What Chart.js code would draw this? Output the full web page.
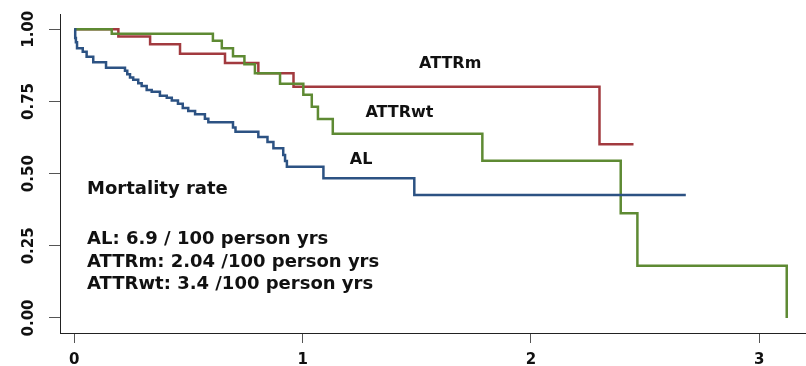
<!DOCTYPE html>
<html>
<head>
<meta charset="utf-8">
<script src="https://cdn.jsdelivr.net/npm/chart.js@4.4.1/dist/chart.umd.min.js"></script>
<style>
  html, body { margin: 0; padding: 0; background: #fff; }
  #wrap { width: 806px; height: 366px; }
</style>
</head>
<body>
<div id="wrap"><canvas id="km" width="806" height="366"></canvas></div>
<script>
// Kaplan-Meier survival estimates by amyloidosis type (time in years)
const alTime = [0, 0.004, 0.007, 0.012, 0.037, 0.054, 0.083, 0.139, 0.222, 0.232, 0.244, 0.258,
  0.280, 0.295, 0.317, 0.339, 0.375, 0.405, 0.427, 0.454, 0.475, 0.499, 0.529, 0.572,
  0.587, 0.695, 0.706, 0.806, 0.846, 0.872, 0.915, 0.923, 0.931, 1.091, 1.489, 2.678];
const alSurv = [1, 0.97, 0.955, 0.934, 0.922, 0.905, 0.886, 0.867, 0.856, 0.844, 0.833, 0.825,
  0.813, 0.804, 0.790, 0.784, 0.770, 0.763, 0.753, 0.742, 0.727, 0.717, 0.706, 0.690,
  0.678, 0.660, 0.645, 0.627, 0.610, 0.588, 0.565, 0.544, 0.524, 0.484, 0.426, 0.426];

const attrmTime = [0, 0.193, 0.332, 0.463, 0.660, 0.806, 0.960, 2.300, 2.449];
const attrmSurv = [1, 0.975, 0.948, 0.915, 0.883, 0.848, 0.801, 0.602, 0.602];

const attrwtTime = [0, 0.164, 0.607, 0.646, 0.695, 0.745, 0.791, 0.901, 1.003, 1.040,
  1.067, 1.132, 1.787, 2.393, 2.466, 3.120];
const attrwtSurv = [1, 0.985, 0.960, 0.934, 0.907, 0.879, 0.848, 0.811, 0.773, 0.732,
  0.689, 0.638, 0.545, 0.363, 0.181, 0];

const xTicks = [0, 1, 2, 3];
const yTicks = [0, 0.25, 0.5, 0.75, 1];
const yTickLabels = ['0.00', '0.25', '0.50', '0.75', '1.00'];

const groupNames = ['AL', 'ATTRwt', 'ATTRm'];
const rateLines = [
  'Mortality rate',
  'AL: 6.9 / 100 person yrs',
  'ATTRm: 2.04 /100 person yrs',
  'ATTRwt: 3.4 /100 person yrs'
];

const toPoints = (t, s) => t.map((v, i) => ({ x: v, y: s[i] }));

// where the group names and the rate block sit, in data units
const nameAnchors = [
  { x: 1.256, y: 0.548 },  // AL
  { x: 1.424, y: 0.710 },  // ATTRwt
  { x: 1.646, y: 0.882 }   // ATTRm
];
const rateX = 0.056;
const rateY = [0.447, 0.274, 0.194, 0.115];

const FONT = '"DejaVu Sans", Verdana, sans-serif';

const textPlugin = {
  id: 'kmText',
  afterDatasetsDraw(chart) {
    const { ctx, scales: { x, y } } = chart;
    ctx.save();
    ctx.fillStyle = '#111';

    // rotated y tick labels
    ctx.font = 'bold 15px ' + FONT;
    ctx.textAlign = 'center';
    ctx.textBaseline = 'middle';
    y.ticks.forEach(tk => {
      const py = y.getPixelForValue(tk.value);
      ctx.save();
      ctx.translate(y.right - 31, py);
      ctx.rotate(-Math.PI / 2);
      ctx.fillText(yTickLabels[yTicks.indexOf(tk.value)], 0, 0);
      ctx.restore();
    });

    // group names next to their curves
    ctx.font = 'bold 16px ' + FONT;
    groupNames.forEach((n, i) => {
      ctx.fillText(n, x.getPixelForValue(nameAnchors[i].x), y.getPixelForValue(nameAnchors[i].y));
    });

    // mortality rate block
    ctx.font = 'bold 18px ' + FONT;
    ctx.textAlign = 'left';
    rateLines.forEach((line, i) => {
      ctx.fillText(line, x.getPixelForValue(rateX), y.getPixelForValue(rateY[i]));
    });
    ctx.restore();
  }
};

const lineStyle = { pointRadius: 0, pointHoverRadius: 0, borderWidth: 2.5, fill: false, stepped: true, tension: 0 };

new Chart(document.getElementById('km'), {
  type: 'line',
  data: {
    datasets: [
      { label: 'AL', data: toPoints(alTime, alSurv), borderColor: '#2c5283', ...lineStyle },
      { label: 'ATTRwt', data: toPoints(attrwtTime, attrwtSurv), borderColor: '#5e8a33', ...lineStyle },
      { label: 'ATTRm', data: toPoints(attrmTime, attrmSurv), borderColor: '#a23a3f', ...lineStyle }
    ]
  },
  options: {
    responsive: false,
    animation: false,
    devicePixelRatio: 1,
    layout: { padding: { top: 14, right: 1, left: 0, bottom: 0 } },
    plugins: { legend: { display: false }, tooltip: { enabled: false } },
    scales: {
      x: {
        type: 'linear',
        min: -0.0626,
        max: 3.2,
        afterBuildTicks: s => { s.ticks = xTicks.map(v => ({ value: v })); },
        afterFit: s => { s.height = 33; },
        grid: { display: true, drawOnChartArea: false, drawTicks: true, tickLength: 10, color: '#555', lineWidth: 1 },
        border: { display: true, color: '#222', width: 1 },
        ticks: {
          padding: 8,
          color: '#111',
          font: { family: FONT, size: 15, weight: 'bold' },
          maxRotation: 0,
          callback: v => String(v)
        }
      },
      y: {
        type: 'linear',
        min: -0.052,
        max: 1.053,
        afterBuildTicks: s => { s.ticks = yTicks.map(v => ({ value: v })); },
        afterFit: s => { s.width = 60; },
        grid: { display: true, drawOnChartArea: false, drawTicks: true, tickLength: 11, color: '#555', lineWidth: 1 },
        border: { display: true, color: '#222', width: 1 },
        ticks: { display: false }
      }
    }
  },
  plugins: [textPlugin]
});
</script>
</body>
</html>
